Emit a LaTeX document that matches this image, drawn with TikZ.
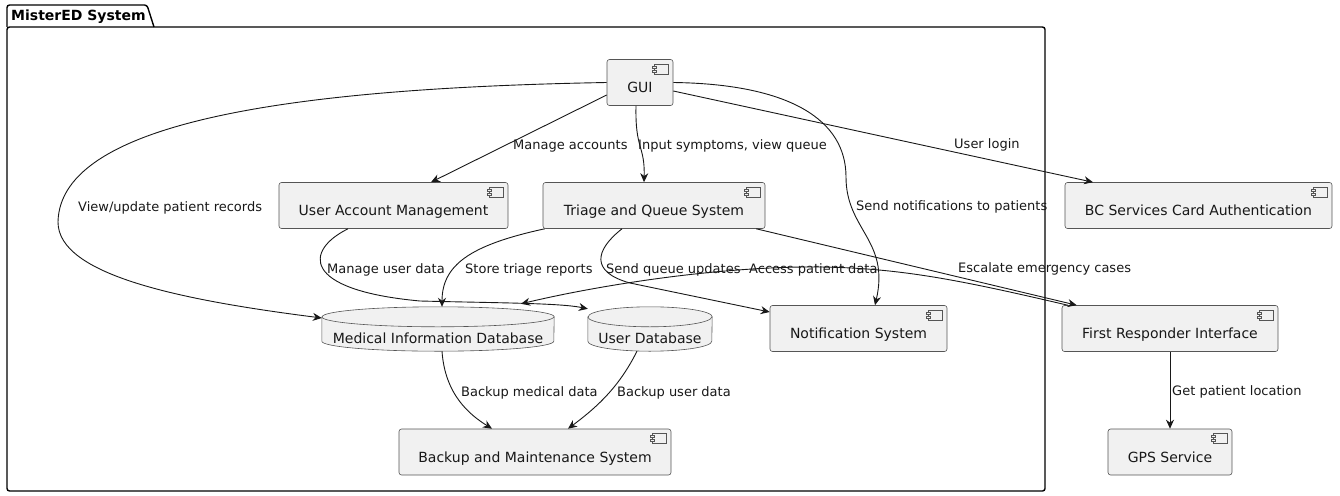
\documentclass[tikz,border=0pt]{standalone}
\usepackage{fontspec}
\setmainfont{DejaVu Sans}
\usetikzlibrary{arrows.meta,backgrounds,calc}
\definecolor{boxfill}{HTML}{F1F1F1}
\definecolor{edgecol}{HTML}{181818}
\definecolor{boxline}{HTML}{555555}
\newcommand\mydbshape[2]{%
  \filldraw[draw=boxline, fill=boxfill, line width=0.6pt]
    ([yshift=-10pt]#1.north west) -- ([yshift=10pt]#1.south west)
    arc[start angle=180, end angle=360, x radius=#2, y radius=10pt]
    -- ([yshift=-10pt]#1.north east)
    arc[start angle=0, end angle=180, x radius=#2, y radius=10pt] -- cycle;
  \draw[draw=boxline, line width=0.6pt] ([yshift=-10pt]#1.north west)
    arc[start angle=180, end angle=360, x radius=#2, y radius=10pt];
}
\begin{document}
\begin{tikzpicture}[x=1pt,y=-1pt,
  comp/.style={draw=boxline, fill=boxfill, line width=0.6pt, rounded corners=2.5pt,
    minimum height=46pt, inner sep=0pt, text height=22.6pt, text depth=2pt,
    font=\fontsize{14}{16}\selectfont, text=edgecol,
    path picture={
      \draw[sharp corners, boxline, line width=0.5pt, fill=boxfill]
        ([xshift=-19pt,yshift=-4.5pt]path picture bounding box.north east) rectangle ++(14pt,-10pt);
      \draw[sharp corners, boxline, line width=0.5pt, fill=boxfill]
        ([xshift=-21pt,yshift=-6.5pt]path picture bounding box.north east) rectangle ++(4pt,-2pt);
      \draw[sharp corners, boxline, line width=0.5pt, fill=boxfill]
        ([xshift=-21pt,yshift=-10.5pt]path picture bounding box.north east) rectangle ++(4pt,-2pt);
    }},
  db/.style={minimum height=44pt, inner sep=0pt, text height=30pt, text depth=2pt,
    font=\fontsize{14}{16}\selectfont, text=edgecol},
  conn/.style={draw=edgecol, line width=0.9pt, -{Stealth[length=9pt,width=8pt]}},
  lbl/.style={font=\fontsize{13}{15}\selectfont, inner sep=0pt, anchor=base west, text=edgecol},
  pkg/.style={draw=black, line width=1.4pt}
]
\useasboundingbox (0,0) rectangle (1340,495);

% package frame
\draw[pkg, rounded corners=2.5pt] (7,27) -- (7,5) -- (147,5) -- (154,27);
\draw[pkg, rounded corners=2.5pt] (7,27) rectangle (1045,491);
\node[font=\fontsize{14}{16}\selectfont\bfseries, inner sep=0pt, anchor=base west] (title) at (11,20.5) {MisterED System};

% components
\node[comp, minimum width=66pt]  (gui)    at (640,82.5)   {GUI};
\node[comp, minimum width=229pt] (uam)    at (393.5,205.5) {User Account Management};
\node[comp, minimum width=222pt] (triage) at (654,205.5)  {Triage and Queue System};
\node[comp, minimum width=177pt] (notif)  at (858.5,328.5) {Notification System};
\node[comp, minimum width=272pt] (backup) at (535,452)    {Backup and Maintenance System};
\node[comp, minimum width=267pt] (bc)     at (1198.5,205.5) {BC Services Card Authentication};
\node[comp, minimum width=216pt] (fr)     at (1170,328.5) {First Responder Interface};
\node[comp, minimum width=124pt] (gps)    at (1170,452)   {GPS Service};

% databases
\node[db, minimum width=232pt] (med) at (438,329) {Medical Information Database};
\node[db, minimum width=124pt] (udb) at (650,329) {User Database};
\begin{scope}[on background layer]
  \mydbshape{med}{116pt}
  \mydbshape{udb}{62pt}
\end{scope}

% connectors
\draw[conn] (gui.west) .. controls (300,88) and (60,120) .. (58,222)
  .. controls (58,275) and (180,300) .. ([yshift=11pt]med.west);
\draw[conn] ([yshift=-12.5pt]gui.west) -- ([xshift=37.5pt]uam.north);
\draw[conn] ([xshift=-4pt]gui.south) .. controls (635,150) and (645,145) .. ([xshift=-10pt]triage.north);
\draw[conn] (gui.east) .. controls (790,84) and (846,120) .. (846,177)
  .. controls (846,230) and (890,240) .. ([xshift=16.5pt]notif.north);
\draw[conn] ([yshift=-8.5pt]gui.east) -- ([xshift=-105.5pt]bc.north);
\draw[conn] ([xshift=-45.5pt]uam.south) .. controls (305,250) and (300,290) .. (420,301)
  .. controls (500,303) and (560,303) .. ([yshift=-2pt]udb.north west);
\draw[conn] ([xshift=2pt]triage.south west) .. controls (470,245) and (442,265) .. ([xshift=4pt]med.north);
\draw[conn] ([xshift=-32pt]triage.south) .. controls (595,250) and (590,272) .. (630,283)
  -- ([yshift=16.5pt]notif.west);
\draw[conn] ([xshift=-9pt]triage.south east) -- ([xshift=15pt]fr.north west);
\draw[conn] ([xshift=6pt]fr.north west) .. controls (960,280) and (900,268) .. (820,267)
  .. controls (720,266) and (600,285) .. ([xshift=83pt,yshift=3pt]med.north);
\draw[conn] ([xshift=4pt]med.south) .. controls (445,395) and (470,415) .. ([xshift=-43pt]backup.north);
\draw[conn] ([xshift=-13pt]udb.south) .. controls (620,385) and (600,405) .. ([xshift=33pt]backup.north);
\draw[conn] (fr.south) -- (gps.north);

% labels
\node[lbl] (l1)  at (78,211)   {View/update patient records};
\node[lbl] (l2)  at (513,149)  {Manage accounts};
\node[lbl] (l3)  at (638,149)  {Input symptoms, view queue};
\node[lbl] (l4)  at (954,148)  {User login};
\node[lbl] (l5)  at (856,210)  {Send notifications to patients};
\node[lbl] (l6)  at (327,273)  {Manage user data};
\node[lbl] (l7)  at (465,273)  {Store triage reports};
\node[lbl] (l8)  at (606,273)  {Send queue updates};
\node[lbl] (l9)  at (749,273)  {Access patient data};
\node[lbl] (l10) at (958,272)  {Escalate emergency cases};
\node[lbl] (l11) at (461,396)  {Backup medical data};
\node[lbl] (l12) at (617,396)  {Backup user data};
\node[lbl] (l13) at (1172,395) {Get patient location};
\end{tikzpicture}
\end{document}
